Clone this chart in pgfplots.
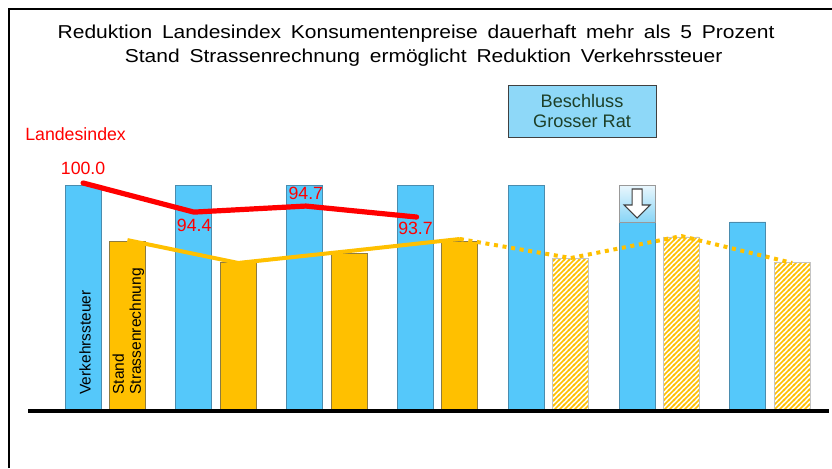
\documentclass[border=0pt]{standalone}
\usepackage{pgfplots}
\pgfplotsset{compat=1.18}
\usepackage{graphicx}
\usepackage{fontspec}
\setmainfont{Liberation Sans}
\usetikzlibrary{patterns.meta}
\definecolor{barblue}{HTML}{55C8FA}
\definecolor{blueedge}{HTML}{4A8CAE}
\definecolor{barorange}{HTML}{FFC000}
\definecolor{orangeedge}{HTML}{8E7B40}
\definecolor{hatchedge}{HTML}{C4C4C4}
\definecolor{boxblue}{HTML}{8ED8F8}
\definecolor{boxtext}{HTML}{1D3F27}
\definecolor{arrowtop}{HTML}{EAF7FD}
\definecolor{arrowbot}{HTML}{88D5F6}
\tikzdeclarepattern{
  name=mystripes,
  type=uncolored,
  bounding box={(0pt,0pt) and (4pt,4pt)},
  tile size={(4pt,4pt)},
  code={
    \draw[line width=1.35pt] (-1pt,-1pt) -- (5pt,5pt);
    \draw[line width=1.35pt] (-1pt,3pt) -- (1pt,5pt);
    \draw[line width=1.35pt] (3pt,-1pt) -- (5pt,1pt);
  }
}
\begin{document}
\begin{tikzpicture}
\begin{axis}[
  at={(0,0)}, anchor=south west,
  scale only axis, width=624pt, height=351pt,
  xmin=-0.95, xmax=6.559, ymin=-26.34, ymax=182.6,
  hide axis, clip=false]
% frame
\draw[black, line width=1pt] (axis cs:-0.869,-26.34) -- (axis cs:-0.869,178.6) -- (axis cs:6.559,178.6);
% blue bars (Verkehrssteuer)
\addplot[ybar, bar width=0.325, bar shift=-0.2, fill=barblue, draw=blueedge, line width=0.7pt]
  coordinates {(0,100) (1,100) (2,100) (3,100) (4,100) (5,83.5) (6,83.5)};
% orange bars (Stand Strassenrechnung)
\addplot[ybar, bar width=0.325, bar shift=0.2, fill=barorange, draw=orangeedge, line width=0.7pt]
  coordinates {(0,75.0) (1,65.2) (2,69.6) (3,75.0)};
% hatched forecast bars
\addplot[ybar, bar width=0.325, bar shift=0.2, pattern={mystripes}, pattern color=barorange, draw=hatchedge, line width=0.7pt]
  coordinates {(4,67.0) (5,76.8) (6,65.2)};
% reduction box on bar 6
\shade[top color=arrowtop, bottom color=arrowbot, draw=gray!80, line width=0.7pt]
  (axis cs:4.6375,83.5) rectangle (axis cs:4.9625,100);
\draw[fill=white, draw=black!75, line width=0.9pt, line join=miter]
  (axis cs:4.8,85.27) -- ++(-9.75pt,9.75pt) -- ++(6pt,0pt) -- ++(0pt,12pt) -- ++(7.5pt,0pt) -- ++(0pt,-12pt) -- ++(6pt,0pt) -- cycle;
% baseline
\draw[black, line width=3pt] (axis cs:-0.697,-0.89) -- (axis cs:6.532,-0.89);
% orange line
\addplot[barorange, line width=3pt] coordinates {(0.2,75.4) (1.2,65.2) (2.2,70.5) (3.2,75.9)};
\addplot[barorange, line width=3pt, dash pattern=on 3pt off 3.5pt] coordinates {(3.2,75.9) (4.2,67.4) (5.2,77.2) (6.2,65.2)};
% red line (Landesindex)
\addplot[red, line width=3.9pt, line join=round, line cap=round] coordinates {(-0.2,100.9) (0.8,87.9) (1.81,90.6) (2.81,85.7)};
% labels
\begin{scope}[every node/.style={inner sep=0pt, text=red, font=\fontsize{13.3pt}{15pt}\selectfont}]
\node[anchor=base] at (axis cs:-0.2,104.5) {100.0};
\node[anchor=base] at (axis cs:0.803,79.2) {94.4};
\node[anchor=base] at (axis cs:1.81,93.6) {94.7};
\node[anchor=base] at (axis cs:2.80,78.0) {93.7};
\node[anchor=base west] at (axis cs:-0.724,119.8) {Landesindex};
\end{scope}
% title
\node[anchor=base, inner sep=0pt, font=\fontsize{14pt}{16pt}\selectfont] at (axis cs:2.805,165.6)
  {\scalebox{1.126}[1]{\spaceskip=6.5pt Reduktion Landesindex Konsumentenpreise dauerhaft mehr als 5 Prozent}};
\node[anchor=base, inner sep=0pt, font=\fontsize{14pt}{16pt}\selectfont] at (axis cs:2.873,154.5)
  {\scalebox{1.126}[1]{\spaceskip=6.5pt Stand Strassenrechnung ermöglicht Reduktion Verkehrssteuer}};
% Beschluss box
\node[fill=boxblue, draw=black!75, line width=0.8pt, minimum width=111pt, minimum height=39pt, align=center,
  text=boxtext, font=\fontsize{13.6pt}{15pt}\selectfont, inner sep=0pt] at (axis cs:4.303,133.0)
  {Beschluss\\Grosser Rat};
% rotated labels in bars
\node[rotate=90, inner sep=0pt, font=\fontsize{11.6pt}{13pt}\selectfont] at (axis cs:-0.183,29.7) {Verkehrssteuer};
\node[rotate=90, anchor=west, align=left, inner sep=0pt, font=\fontsize{11.7pt}{12.8pt}\selectfont] at (axis cs:0.208,6.25)
  {Stand\\Strassenrechnung};
\end{axis}
\pgfresetboundingbox
\useasboundingbox (0,0) rectangle (624pt,351pt);
\end{tikzpicture}
\end{document}
